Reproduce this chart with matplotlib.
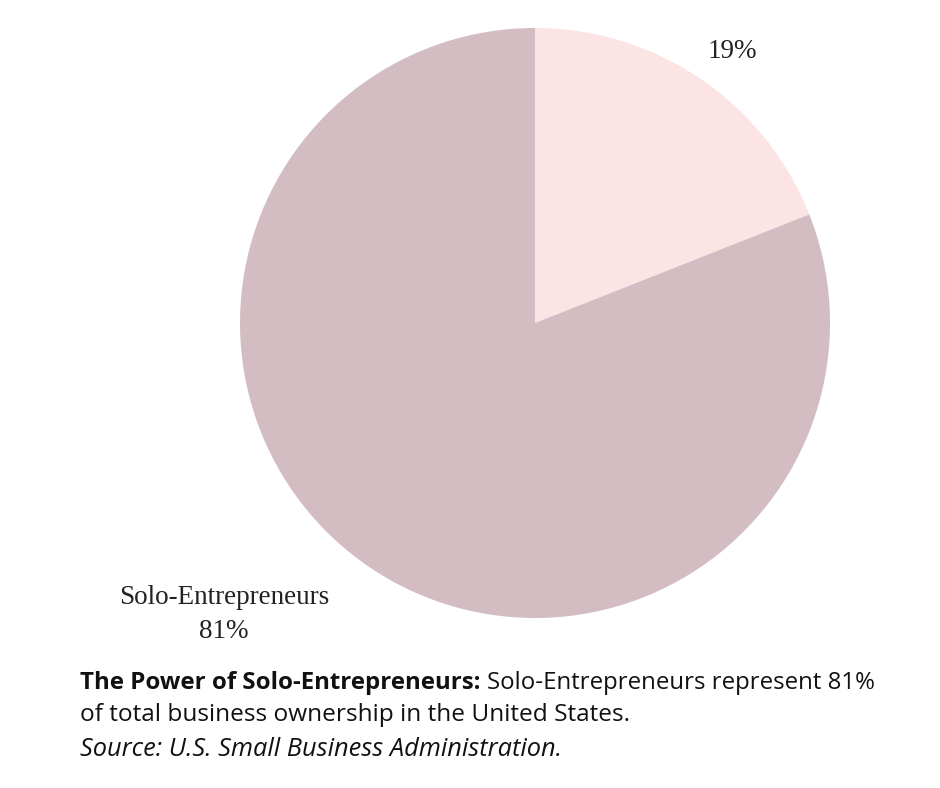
import matplotlib
matplotlib.use("Agg")
import matplotlib.pyplot as plt

# data
labels = ["Other", "Solo-Entrepreneurs"]
shares = [19, 81]
colors = ["#fce4e4", "#d3bdc2"]

W, H = 940, 788
fig = plt.figure(figsize=(W / 100, H / 100), dpi=100)

# pie axes: centre (535, 323) px, radius 295 px
cx, cy, r = 535, 323, 295
ax = fig.add_axes([(cx - r) / W, (H - cy - r) / H, 2 * r / W, 2 * r / H])
ax.pie(shares, colors=colors, startangle=90, counterclock=False, radius=1.0,
       wedgeprops=dict(linewidth=0))
ax.set_xlim(-1, 1)
ax.set_ylim(-1, 1)
ax.set_aspect("equal")
ax.axis("off")

serif = ["Liberation Serif", "DejaVu Serif"]
fig.text(732 / W, 1 - 52 / H, f"{shares[0]}%", ha="center", va="center",
         fontsize=19.5, family=serif, color="#222222")
fig.text(224 / W, 1 - 597 / H, labels[1], ha="center", va="center",
         fontsize=19.5, family=serif, color="#222222")
fig.text(224 / W, 1 - 632 / H, f"{shares[1]}%", ha="center", va="center",
         fontsize=19.5, family=serif, color="#222222")

# caption
sans = ["Open Sans", "DejaVu Sans"]
x0 = 80 / W
t_bold = fig.text(x0, 1 - 683 / H, "The Power of Solo-Entrepreneurs:", ha="left", va="center",
                  fontsize=17.3, fontweight="bold", family=sans, color="#111111")
fig.canvas.draw()
bb = t_bold.get_window_extent(fig.canvas.get_renderer())
fig.text((bb.x1 + 6) / W, 1 - 683 / H,
         f"Solo-Entrepreneurs represent {shares[1]}%", ha="left", va="center",
         fontsize=17.3, family=sans, color="#111111")
fig.text(x0, 1 - 715 / H, "of total business ownership in the United States.",
         ha="left", va="center", fontsize=17.6, family=sans, color="#111111")
fig.text(x0, 1 - 750 / H, "Source: U.S. Small Business Administration.",
         ha="left", va="center", fontsize=18.3, style="italic", family=sans, color="#111111")

fig.savefig("out.png", dpi=100, facecolor="white")
